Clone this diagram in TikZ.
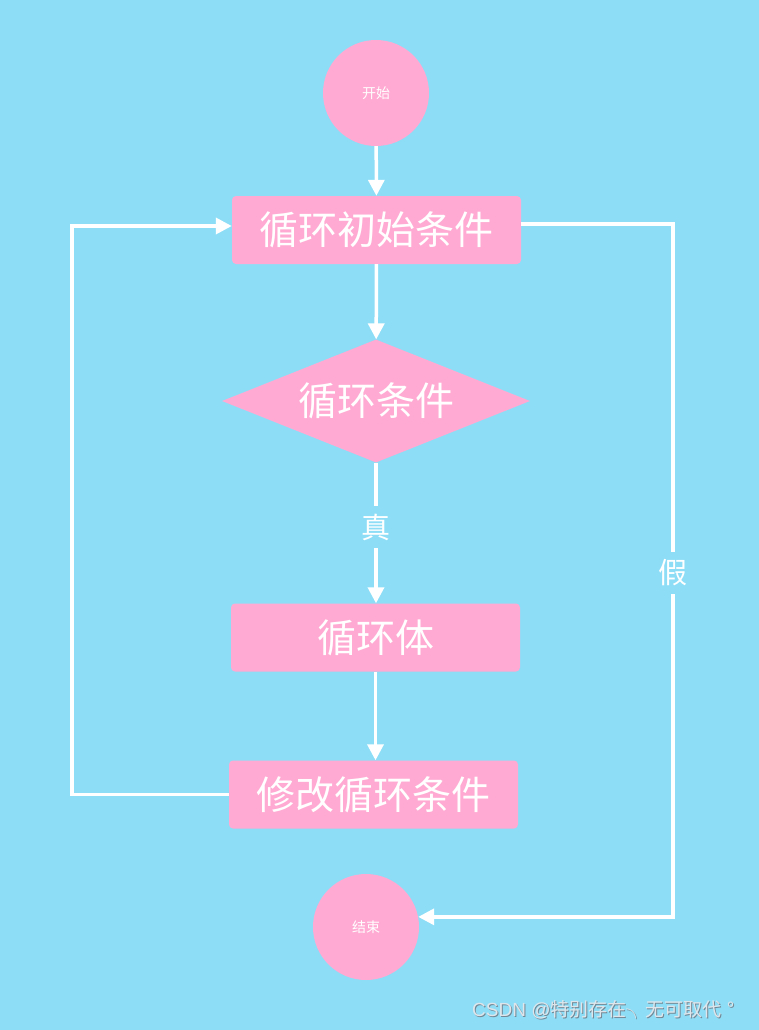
\documentclass[tikz,border=0pt]{standalone}
\usepackage{fontspec}
\setmainfont{Noto Sans CJK SC}
\newfontfamily\latinsans{Liberation Sans}
\usepackage{tikz}
\usetikzlibrary{arrows.meta,positioning,shapes.geometric}

\definecolor{skyblue}{RGB}{141,221,247}
\definecolor{softpink}{RGB}{255,170,210}
\definecolor{markgray}{RGB}{222,230,235}
\definecolor{markshade}{RGB}{115,135,148}

\newcommand{\marktext}{{\latinsans CSDN @}特别存在╮无可取代\,\,°}

\begin{document}
\begin{tikzpicture}[x=1pt, y=-1pt,
        box/.style={rectangle, rounded corners=4pt, fill=softpink, text=white,
            minimum width=289pt, minimum height=68pt, inner sep=0pt,
            font=\fontsize{39}{39}\selectfont},
        cond/.style={diamond, fill=softpink, text=white, aspect=2.5,
            minimum width=308pt, minimum height=123pt, inner sep=0pt,
            font=\fontsize{39}{39}\selectfont},
        term/.style={circle, fill=softpink, text=white, minimum size=106pt,
            inner sep=0pt, font=\fontsize{14}{14}\selectfont},
        tag/.style={fill=skyblue, text=white, inner sep=8pt,
            font=\fontsize{29}{29}\selectfont},
        flow/.style={draw=white, line width=3.5pt,
            -{Triangle[length=16pt,width=16pt]}},
        credittext/.style={inner sep=0pt, font=\fontsize{19}{19}\selectfont}]
            % Background and page size
            \fill[skyblue] (0,0) rectangle (759,1030);

            % Start and end
            \node[term] (start) at (376,93) {开始};
            \node[term] (stop) at (366,927) {结束};

            % Steps of the loop
            \node[box] (init) at (376.5,230) {循环初始条件};
            \node[cond] (test) at (376,401) {循环条件};
            \node[box] (body) at (375.5,637.5) {循环体};
            \node[box] (change) at (373.5,794.5) {修改循环条件};

            % Turning points of the two loop lines
            \coordinate (lturn) at (72,226);
            \coordinate (rturn) at (673,0 |- stop.11);

            % Straight arrows
            \draw[flow] (start) -- (init);
            \draw[flow] (init) -- (test);
            \draw[flow] (test.south) -- (test.south |- body.north);
            \draw[flow] (body.south) -- (body.south |- change.north);

            % Back to the start of the loop
            \draw[flow] (change.west) -| (lturn) -- ([yshift=4pt]init.west);

            % Leaving the loop
            \draw[flow] ([yshift=6pt]init.east) -| (rturn) -- (stop.11);

            % Labels on the lines
            \node[tag] (true) at (376,527) {真};
            \node[tag] (false) at (673,573) {假};

            % Watermark
            \node[credittext, text=markshade, anchor=west] at (473,1011) {\marktext};
            \node[credittext, text=markgray, anchor=west] (credit) at (472,1010) {\marktext};
        \end{tikzpicture}
\end{document}
